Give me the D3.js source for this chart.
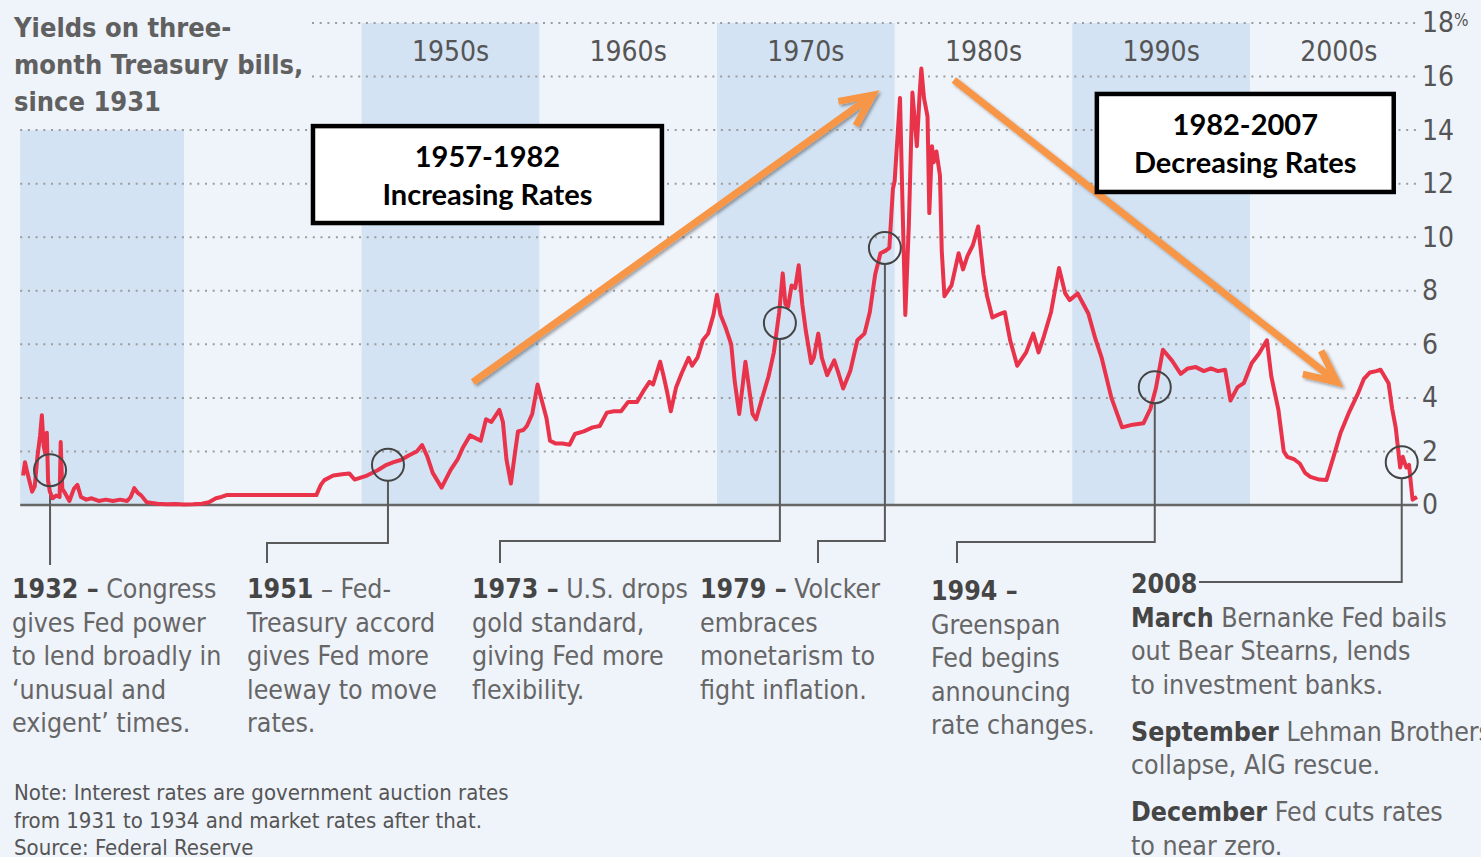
<!DOCTYPE html>
<html>
<head>
<meta charset="utf-8">
<script src="https://cdn.jsdelivr.net/npm/d3@7"></script>
<style>
  body { margin: 0; background: #eff3fa; }
  svg { display: block; }
</style>
</head>
<body>
<svg id="chart"></svg>
<script>
// three-month T-bill yield (decimal year, percent)
const months = [
  1930.94, 1931.05, 1931.15, 1931.3, 1931.45, 1931.6, 1931.75, 1931.9, 1932.0, 1932.1,
  1932.2, 1932.28, 1932.35, 1932.45, 1932.6, 1932.8, 1933.0, 1933.06, 1933.15, 1933.3,
  1933.55, 1933.8, 1934.0, 1934.2, 1934.5, 1934.8, 1935.2, 1935.6, 1936.0, 1936.4,
  1936.8, 1937.0, 1937.2, 1937.4, 1937.6, 1937.9, 1938.5, 1939.0, 1939.5, 1940.0,
  1940.5, 1941.0, 1941.4, 1941.8, 1942.1, 1942.4, 1947.45, 1947.7, 1947.9, 1948.4,
  1948.9, 1949.3, 1949.6, 1950.3, 1950.9, 1951.4, 1951.8, 1952.2, 1952.7, 1953.1,
  1953.4, 1953.7, 1954.0, 1954.5, 1955.0, 1955.4, 1955.7, 1956.1, 1956.7, 1957.0,
  1957.3, 1957.75, 1957.95, 1958.15, 1958.4, 1958.6, 1958.8, 1959.1, 1959.3, 1959.6,
  1959.9, 1960.1, 1960.4, 1960.6, 1960.9, 1961.3, 1961.7, 1962.0, 1962.5, 1963.0,
  1963.4, 1963.8, 1964.2, 1964.6, 1965.0, 1965.5, 1965.9, 1966.2, 1966.4, 1966.8,
  1967.0, 1967.2, 1967.4, 1967.7, 1968.0, 1968.4, 1968.6, 1968.9, 1969.2, 1969.5,
  1969.8, 1970.0, 1970.2, 1970.5, 1970.8, 1971.0, 1971.25, 1971.45, 1971.6, 1971.8,
  1972.0, 1972.2, 1972.5, 1972.9, 1973.2, 1973.5, 1973.7, 1973.85, 1974.0, 1974.2,
  1974.4, 1974.6, 1974.8, 1975.0, 1975.3, 1975.45, 1975.7, 1975.9, 1976.2, 1976.6,
  1976.8, 1977.1, 1977.5, 1977.9, 1978.3, 1978.6, 1978.9, 1979.2, 1979.5, 1979.7,
  1979.9, 1980.0, 1980.3, 1980.45, 1980.6, 1980.8, 1981.0, 1981.15, 1981.25, 1981.4,
  1981.5, 1981.65, 1981.85, 1981.95, 1982.1, 1982.2, 1982.35, 1982.55, 1982.65, 1982.8,
  1983.2, 1983.6, 1983.85, 1984.1, 1984.4, 1984.7, 1985.0, 1985.2, 1985.5, 1985.8,
  1986.2, 1986.5, 1986.9, 1987.4, 1987.8, 1988.1, 1988.4, 1988.8, 1989.25, 1989.6,
  1989.85, 1990.3, 1990.9, 1991.3, 1991.65, 1992.2, 1992.8, 1993.4, 1994.0, 1994.4,
  1994.7, 1995.1, 1995.6, 1996.1, 1996.5, 1996.95, 1997.4, 1997.8, 1998.2, 1998.6,
  1998.9, 1999.3, 1999.65, 2000.1, 2000.5, 2000.95, 2001.2, 2001.6, 2001.9, 2002.1,
  2002.5, 2002.8, 2003.1, 2003.4, 2003.9, 2004.3, 2004.7, 2005.1, 2005.6, 2006.1,
  2006.4, 2006.75, 2007.1, 2007.35, 2007.8, 2008.0, 2008.2, 2008.45, 2008.6, 2008.8,
  2008.95, 2009.15, 2009.4
]
const yields = [
  1.1, 1.6, 1.3, 0.9, 0.5, 0.7, 1.8, 2.6, 3.35, 2.2,
  1.9, 2.7, 0.9, 0.5, 0.25, 0.35, 0.3, 2.35, 0.6, 0.45,
  0.15, 0.6, 0.75, 0.3, 0.2, 0.25, 0.15, 0.2, 0.15, 0.2,
  0.15, 0.3, 0.63, 0.45, 0.35, 0.1, 0.05, 0.03, 0.04, 0.02,
  0.03, 0.05, 0.1, 0.25, 0.3, 0.37, 0.37, 0.75, 0.93, 1.1,
  1.15, 1.18, 0.95, 1.1, 1.3, 1.5, 1.6, 1.68, 1.87, 2.0,
  2.24, 1.8, 1.2, 0.65, 1.3, 1.7, 2.15, 2.6, 2.4, 3.2,
  3.1, 3.55, 3.1, 1.7, 0.8, 1.8, 2.75, 2.8, 2.95, 3.4,
  4.5, 4.0, 3.25, 2.4, 2.3, 2.3, 2.25, 2.65, 2.75, 2.9,
  2.95, 3.45, 3.5, 3.5, 3.85, 3.85, 4.3, 4.6, 4.5, 5.35,
  4.8, 4.2, 3.5, 4.4, 4.9, 5.5, 5.2, 5.5, 6.15, 6.4,
  7.1, 7.85, 7.1, 6.6, 6.0, 4.6, 3.4, 4.5, 5.35, 4.4,
  3.4, 3.2, 3.9, 4.8, 5.7, 7.2, 8.65, 7.5, 7.4, 8.2,
  8.1, 8.95, 7.5, 6.5, 5.3, 5.5, 6.4, 5.5, 4.85, 5.4,
  5.0, 4.35, 5.0, 6.15, 6.4, 7.2, 8.6, 9.4, 9.5, 9.6,
  11.8, 12.1, 15.2, 11.0, 7.1, 10.5, 15.4, 14.2, 13.4, 15.3,
  16.3, 15.2, 14.5, 10.9, 13.4, 12.8, 13.2, 12.3, 9.5, 7.8,
  8.2, 9.4, 8.8, 9.3, 9.7, 10.4, 8.6, 7.8, 7.0, 7.1,
  7.2, 6.15, 5.2, 5.7, 6.4, 5.7, 6.3, 7.2, 8.85, 7.9,
  7.65, 7.9, 7.15, 6.2, 5.5, 4.0, 2.9, 3.0, 3.05, 3.6,
  4.35, 5.8, 5.4, 4.9, 5.1, 5.15, 5.0, 5.1, 5.0, 5.05,
  3.9, 4.4, 4.55, 5.3, 5.65, 6.15, 4.8, 3.55, 2.0, 1.8,
  1.7, 1.55, 1.2, 1.05, 0.95, 0.93, 1.8, 2.7, 3.5, 4.2,
  4.7, 4.95, 5.0, 5.05, 4.55, 3.6, 2.9, 1.4, 1.8, 1.4,
  1.5, 0.2, 0.3
]

const rateTicks = [0, 2, 4, 6, 8, 10, 12, 14, 16, 18]
const shadedDecades = [1930, 1950, 1970, 1990]
const decadeStarts = [1950, 1960, 1970, 1980, 1990, 2000]
const decadeNames = ['1950s', '1960s', '1970s', '1980s', '1990s', '2000s']

const titleLines = ['Yields on three-', 'month Treasury bills,', 'since 1931']

// circled events on the line
const eventYears = [1932.46, 1951.48, 1973.54, 1979.45, 1994.64, 2008.54]
const eventRates = [1.3, 1.5, 6.8, 9.6, 4.4, 1.6]
// note text: [bold part, regular part], null = paragraph gap
const eventNotes = [
  [['1932 –', ' Congress'], ['', 'gives Fed power'], ['', 'to lend broadly in'], ['', '‘unusual and'], ['', 'exigent’ times.']],
  [['1951', ' – Fed-'], ['', 'Treasury accord'], ['', 'gives Fed more'], ['', 'leeway to move'], ['', 'rates.']],
  [['1973 –', ' U.S. drops'], ['', 'gold standard,'], ['', 'giving Fed more'], ['', 'flexibility.']],
  [['1979 –', ' Volcker'], ['', 'embraces'], ['', 'monetarism to'], ['', 'fight inflation.']],
  [['1994 –', ''], ['', 'Greenspan'], ['', 'Fed begins'], ['', 'announcing'], ['', 'rate changes.']],
  [['2008', ''], ['March', ' Bernanke Fed bails'], ['', 'out Bear Stearns, lends'], ['', 'to investment banks.'], null,
   ['September', ' Lehman Brothers'], ['', 'collapse, AIG rescue.'], null,
   ['December', ' Fed cuts rates'], ['', 'to near zero.']]
]

const noteLines = [
  'Note: Interest rates are government auction rates',
  'from 1931 to 1934 and market rates after that.',
  'Source: Federal Reserve'
]

// overlay trend callouts, in data units
const trendBoxes = [
  { x0: 1947.26, x1: 1966.9, y0: 14.15, y1: 10.53, lines: ['1957-1982', 'Increasing Rates'] },
  { x0: 1991.38, x1: 2008.09, y0: 15.35, y1: 11.69, lines: ['1982-2007', 'Decreasing Rates'] }
]
const trendArrows = [
  { from: [1956.26, 4.59], to: [1978.77, 15.31] },
  { from: [1983.33, 15.87], to: [2004.89, 4.59] }
]

const W = 1481
const H = 857
const FONT = "'DejaVu Sans Condensed', 'DejaVu Sans', sans-serif"
const TEXT = '#666'
const DARK = '#454545'

const svg = d3.select('#chart').attr('width', W).attr('height', H)

const defs = svg.append('defs')
defs.append('filter').attr('id', 'shadow')
  .attr('x', '-20%').attr('y', '-20%').attr('width', '140%').attr('height', '140%')
  .append('feDropShadow')
    .attr('dx', 2).attr('dy', 2).attr('stdDeviation', 1.8)
    .attr('flood-color', '#000').attr('flood-opacity', 0.35)

svg.append('rect').attr('width', W).attr('height', H).attr('fill', '#eff3fa')

const x = d3.scaleLinear().domain([1940, 2000]).range([184, 1250])
const y = d3.scaleLinear().domain([0, 18]).range([505, 23])
const xStart = x(1930.78)
const xEnd = x(2009.45)

// decade shading
const bandTop = (d) => d === 1930 ? y(14) : y(18)
svg.append('g').selectAll('rect')
  .data(shadedDecades)
  .join('rect')
    .attr('x', (d) => Math.max(x(d), xStart))
    .attr('y', bandTop)
    .attr('width', (d) => x(d + 10) - Math.max(x(d), xStart))
    .attr('height', (d) => y(0) - bandTop(d))
    .attr('fill', '#d3e3f3')

// dotted gridlines
svg.append('g').selectAll('line')
  .data(rateTicks.filter((d) => d > 0))
  .join('line')
    .attr('x1', (d) => d >= 16 ? 312 : xStart)
    .attr('x2', xEnd)
    .attr('y1', (d) => y(d))
    .attr('y2', (d) => y(d))
    .attr('stroke', '#9c9c9c')
    .attr('stroke-width', 2)
    .attr('stroke-dasharray', '2 5.7')

// right axis labels
const yAxis = svg.append('g')
  .attr('transform', `translate(${xEnd},0)`)
  .call(d3.axisRight(y).tickValues(rateTicks).tickSize(0).tickPadding(4).tickFormat((d) => d))
yAxis.select('.domain').remove()
yAxis.selectAll('text')
  .attr('font-family', FONT)
  .attr('font-size', 28)
  .attr('fill', '#555')
  .filter((d) => d === 18)
    .append('tspan').text('%').attr('font-size', 17).attr('dy', -6)

// decade labels
svg.append('g').selectAll('text')
  .data(decadeStarts)
  .join('text')
    .attr('x', (d) => x(d + 5))
    .attr('y', 61)
    .attr('text-anchor', 'middle')
    .attr('font-family', FONT)
    .attr('font-size', 28)
    .attr('fill', '#555')
    .text((d, i) => decadeNames[i])

// title
svg.append('g').selectAll('text')
  .data(titleLines)
  .join('text')
    .attr('x', 14)
    .attr('y', (d, i) => 37 + i * 37)
    .attr('font-family', FONT)
    .attr('font-size', 27)
    .attr('font-weight', 'bold')
    .attr('fill', '#606060')
    .text((d) => d)

// zero line
svg.append('line')
  .attr('x1', xStart).attr('x2', xEnd)
  .attr('y1', y(0)).attr('y2', y(0))
  .attr('stroke', '#666').attr('stroke-width', 2.5)

// event leaders
const noteLayout = [
  { x: 12, y: 598, leaderX: null, elbow: null },
  { x: 247, y: 598, leaderX: 267, elbow: 543 },
  { x: 472, y: 598, leaderX: 500, elbow: 541 },
  { x: 700, y: 598, leaderX: 818, elbow: 541 },
  { x: 931, y: 600, leaderX: 957, elbow: 542 },
  { x: 1131, y: 593, leaderX: 1199, elbow: 582 }
]
const CIRCLE_R = 16
const leaderPath = (d, i) => {
  const cx = x(d)
  const top = y(eventRates[i]) + CIRCLE_R
  const L = noteLayout[i]
  if (L.elbow === null) return `M${cx},${top}V565`
  if (i === eventYears.length - 1) return `M${cx},${top}V${L.elbow}H${L.leaderX}`
  return `M${cx},${top}V${L.elbow}H${L.leaderX}V563`
}
svg.append('g').selectAll('path')
  .data(eventYears)
  .join('path')
    .attr('d', leaderPath)
    .attr('fill', 'none')
    .attr('stroke', '#5a5a5a')
    .attr('stroke-width', 2)

// yield line
const series = months.map((m, i) => ({ year: m, rate: yields[i] }))
svg.append('path')
  .datum(series)
  .attr('fill', 'none')
  .attr('stroke', '#e8334b')
  .attr('stroke-width', 4)
  .attr('stroke-linejoin', 'round')
  .attr('d', d3.line().x((d) => x(d.year)).y((d) => y(d.rate)))

// event circles
svg.append('g').selectAll('circle')
  .data(eventYears)
  .join('circle')
    .attr('cx', (d) => x(d))
    .attr('cy', (d, i) => y(eventRates[i]))
    .attr('r', CIRCLE_R)
    .attr('fill', 'none')
    .attr('stroke', '#444')
    .attr('stroke-width', 2)

// event notes
const LINE_H = 33.5
const GAP = 13.5
eventNotes.forEach((lines, i) => {
  const L = noteLayout[i]
  let yy = L.y
  const g = svg.append('g').attr('font-family', FONT).attr('font-size', 26.5)
  lines.forEach((ln) => {
    if (ln === null) { yy += GAP; return }
    const t = g.append('text').attr('x', L.x).attr('y', yy)
    if (ln[0]) t.append('tspan').attr('font-weight', 'bold').attr('fill', DARK).text(ln[0])
    if (ln[1]) t.append('tspan').attr('fill', TEXT).text(ln[1])
    yy += LINE_H
  })
})

// footnote
svg.append('g').selectAll('text')
  .data(noteLines)
  .join('text')
    .attr('x', 14)
    .attr('y', (d, i) => 800 + i * 27.5)
    .attr('font-family', FONT)
    .attr('font-size', 22)
    .attr('fill', '#555')
    .text((d) => d)

// orange trend arrows
const ARROW = '#f79646'
const arrowG = svg.append('g').attr('filter', 'url(#shadow)')
trendArrows.forEach((a) => {
  const x1 = x(a.from[0])
  const y1 = y(a.from[1])
  const x2 = x(a.to[0])
  const y2 = y(a.to[1])
  const ang = Math.atan2(y2 - y1, x2 - x1)
  const len = 35
  const spread = 0.44
  const w1 = [x2 - len * Math.cos(ang - spread), y2 - len * Math.sin(ang - spread)]
  const w2 = [x2 - len * Math.cos(ang + spread), y2 - len * Math.sin(ang + spread)]
  arrowG.append('path')
    .attr('d', `M${x1},${y1}L${x2},${y2}M${w1[0]},${w1[1]}L${x2},${y2}L${w2[0]},${w2[1]}`)
    .attr('fill', 'none')
    .attr('stroke', ARROW)
    .attr('stroke-width', 7)
    .attr('stroke-linecap', 'butt')
    .attr('stroke-linejoin', 'miter')
})

// trend boxes
trendBoxes.forEach((b) => {
  const bx = x(b.x0)
  const by = y(b.y0)
  const bw = x(b.x1) - bx
  const bh = y(b.y1) - by
  svg.append('rect')
    .attr('x', bx).attr('y', by).attr('width', bw).attr('height', bh)
    .attr('fill', '#fff').attr('stroke', '#000').attr('stroke-width', 4.5)
  svg.append('g').selectAll('text')
    .data(b.lines)
    .join('text')
      .attr('x', bx + bw / 2)
      .attr('y', (d, i) => by + 41 + i * 38)
      .attr('text-anchor', 'middle')
      .attr('font-family', "Lato, 'Open Sans', sans-serif")
      .attr('font-weight', 'bold')
      .attr('font-size', 29)
      .attr('fill', '#000')
      .text((d) => d)
})
</script>
</body>
</html>
